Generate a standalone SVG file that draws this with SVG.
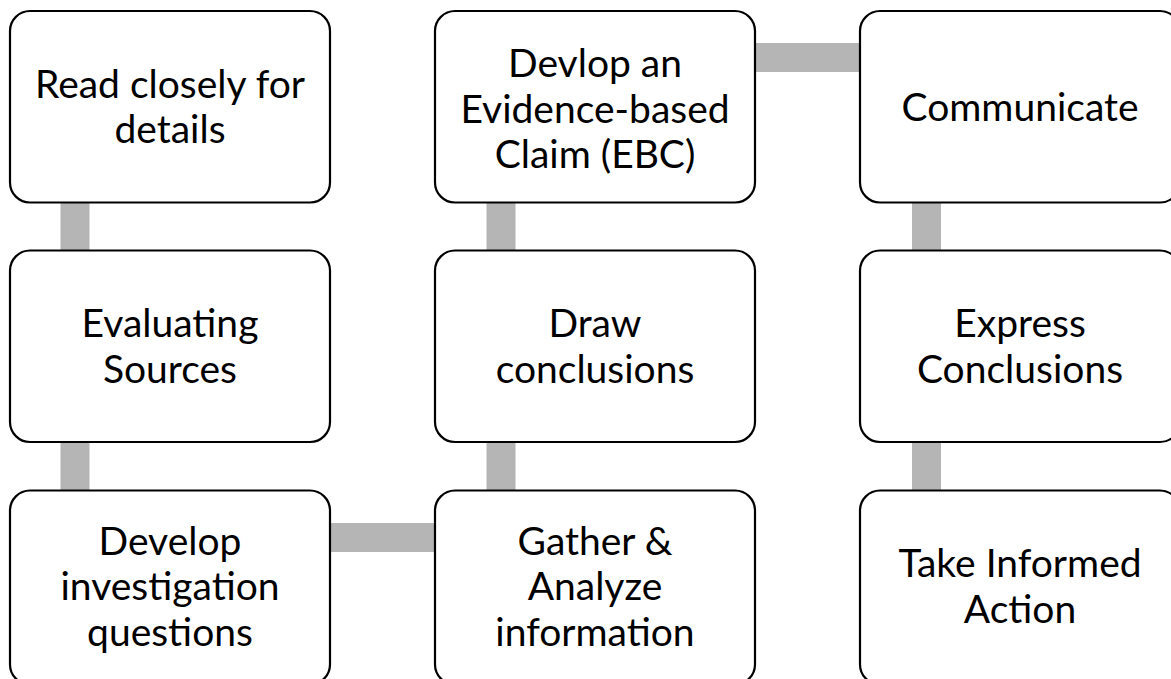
<svg xmlns="http://www.w3.org/2000/svg" width="1171" height="679" viewBox="0 0 1171 679">
  <style>
    .box { fill: #ffffff; stroke: #000000; stroke-width: 2.2; }
    .link { stroke: #b5b5b5; stroke-width: 29; fill: none; }
    .label { font-family: Lato, "Open Sans", sans-serif; font-size: 39px; fill: #000000; text-anchor: middle; }
  </style>
  <rect width="1171" height="679" fill="#ffffff"/>

  <!-- connectors sit behind the boxes -->
  <g id="connectors">
    <line class="link" x1="75" y1="106" x2="75" y2="586"/>
    <line class="link" x1="170" y1="537.5" x2="595" y2="537.5"/>
    <line class="link" x1="501" y1="586" x2="501" y2="106"/>
    <line class="link" x1="595" y1="57.5" x2="1020" y2="57.5"/>
    <line class="link" x1="926.5" y1="106" x2="926.5" y2="586"/>
  </g>

  <g id="node-read">
    <rect class="box" x="10" y="11" width="320" height="191.5" rx="20"/>
    <text class="label" x="170" y="97.5">Read closely for</text>
    <text class="label" x="170" y="143">details</text>
  </g>
  <g id="node-evaluating">
    <rect class="box" x="10" y="250.5" width="320" height="191.5" rx="20"/>
    <text class="label" x="170" y="337">Evaluating</text>
    <text class="label" x="170" y="382.5">Sources</text>
  </g>
  <g id="node-develop">
    <rect class="box" x="10" y="490.5" width="320" height="194" rx="20"/>
    <text class="label" x="170" y="554.5">Develop</text>
    <text class="label" x="170" y="600">investigation</text>
    <text class="label" x="170" y="645.5">questions</text>
  </g>

  <g id="node-ebc">
    <rect class="box" x="435" y="11" width="320" height="191.5" rx="20"/>
    <text class="label" x="595" y="77">Devlop an</text>
    <text class="label" x="595" y="122.5">Evidence-based</text>
    <text class="label" x="595" y="168">Claim (EBC)</text>
  </g>
  <g id="node-draw">
    <rect class="box" x="435" y="250.5" width="320" height="191.5" rx="20"/>
    <text class="label" x="595" y="337">Draw</text>
    <text class="label" x="595" y="382.5">conclusions</text>
  </g>
  <g id="node-gather">
    <rect class="box" x="435" y="490.5" width="320" height="194" rx="20"/>
    <text class="label" x="595" y="554.5">Gather &amp;</text>
    <text class="label" x="595" y="600">Analyze</text>
    <text class="label" x="595" y="645.5">information</text>
  </g>

  <g id="node-communicate">
    <rect class="box" x="860" y="11" width="320" height="191.5" rx="20"/>
    <text class="label" x="1020" y="120.5">Communicate</text>
  </g>
  <g id="node-express">
    <rect class="box" x="860" y="250.5" width="320" height="191.5" rx="20"/>
    <text class="label" x="1020" y="337">Express</text>
    <text class="label" x="1020" y="382.5">Conclusions</text>
  </g>
  <g id="node-action">
    <rect class="box" x="860" y="490.5" width="320" height="194" rx="20"/>
    <text class="label" x="1020" y="577">Take Informed</text>
    <text class="label" x="1020" y="622.5">Action</text>
  </g>
</svg>
